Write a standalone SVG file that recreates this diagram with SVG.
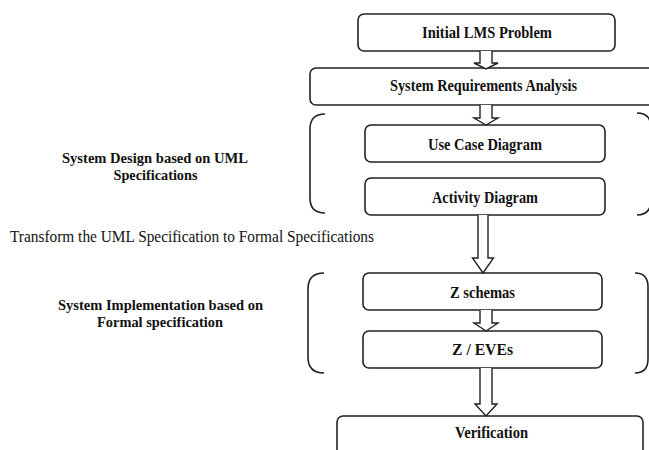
<svg xmlns="http://www.w3.org/2000/svg" width="649" height="450" viewBox="0 0 649 450">
<style>
.box{fill:#fff;stroke:#222;stroke-width:1.6}
.arr{fill:#fff;stroke:#222;stroke-width:1.4;stroke-linejoin:miter}
.br{fill:none;stroke:#222;stroke-width:1.6}
.t{font-family:"Liberation Serif","Times New Roman",serif;font-weight:bold;font-size:16px;fill:#111;text-anchor:middle}
.s{font-family:"Liberation Serif","Times New Roman",serif;font-weight:bold;font-size:15px;fill:#111;text-anchor:middle}
.r{font-family:"Liberation Serif","Times New Roman",serif;font-size:16px;fill:#111}
</style>
<rect width="649" height="450" fill="#fff"/>
<g id="brackets">
<path class="br" d="M325,114 Q310,114 310,129 V198 Q310,213 325,213"/>
<path class="br" d="M637,113 Q651,113 651,128 V200 Q651,215 637,215"/>
<path class="br" d="M324,273 Q308,273 308,289 V357 Q308,373 324,373"/>
<path class="br" d="M635,273 Q648,273 648,287 V359 Q648,373 635,373"/>
</g>
<g id="n1"><rect class="box" x="358" y="14" width="257" height="37" rx="6"/><text class="t" x="487" y="38" textLength="130" lengthAdjust="spacingAndGlyphs">Initial LMS Problem</text></g>
<g id="n2"><rect class="box" x="310" y="68" width="345" height="37" rx="6"/><text class="t" x="483.5" y="91" textLength="187" lengthAdjust="spacingAndGlyphs">System Requirements Analysis</text></g>
<g id="n3"><rect class="box" x="365" y="125" width="240" height="37" rx="6"/><text class="t" x="485" y="150" textLength="114" lengthAdjust="spacingAndGlyphs">Use Case Diagram</text></g>
<g id="n4"><rect class="box" x="365" y="178" width="240" height="37" rx="6"/><text class="t" x="485" y="203" textLength="106" lengthAdjust="spacingAndGlyphs">Activity Diagram</text></g>
<g id="n5"><rect class="box" x="363" y="273" width="239" height="37" rx="6"/><text class="t" x="482.5" y="298" textLength="65" lengthAdjust="spacingAndGlyphs">Z schemas</text></g>
<g id="n6"><rect class="box" x="363" y="331" width="239" height="37" rx="6"/><text class="t" x="482.5" y="355" textLength="61" lengthAdjust="spacingAndGlyphs">Z / EVEs</text></g>
<g id="n7"><rect class="box" x="337" y="416" width="306" height="44" rx="6"/><text class="t" x="491.5" y="438" textLength="73" lengthAdjust="spacingAndGlyphs">Verification</text></g>
<g id="connectors">
<path class="arr" d="M480,51 V63 H474 L486,69 L498,63 H492 V51"/>
<path class="arr" d="M480,105 V118 H474 L486,125 L498,118 H492 V105"/>
<path class="arr" d="M478,215 V258 H472.5 L483,273 L493.5,258 H488 V215"/>
<path class="arr" d="M480,310 V323 H474 L486,331 L498,323 H492 V310"/>
<path class="arr" d="M480,368 V404 H475 L486,416 L497,404 H492 V368"/>
</g>
<g id="labels">
<text class="s" x="155" y="163" textLength="186" lengthAdjust="spacingAndGlyphs">System Design based on UML</text>
<text class="s" x="155.5" y="180" textLength="84" lengthAdjust="spacingAndGlyphs">Specifications</text>
<text class="r" x="10" y="242" textLength="364" lengthAdjust="spacingAndGlyphs">Transform the UML Specification to Formal Specifications</text>
<text class="s" x="160.5" y="310" textLength="205" lengthAdjust="spacingAndGlyphs">System Implementation based on</text>
<text class="s" x="160" y="327" textLength="126" lengthAdjust="spacingAndGlyphs">Formal specification</text>
</g>
</svg>
